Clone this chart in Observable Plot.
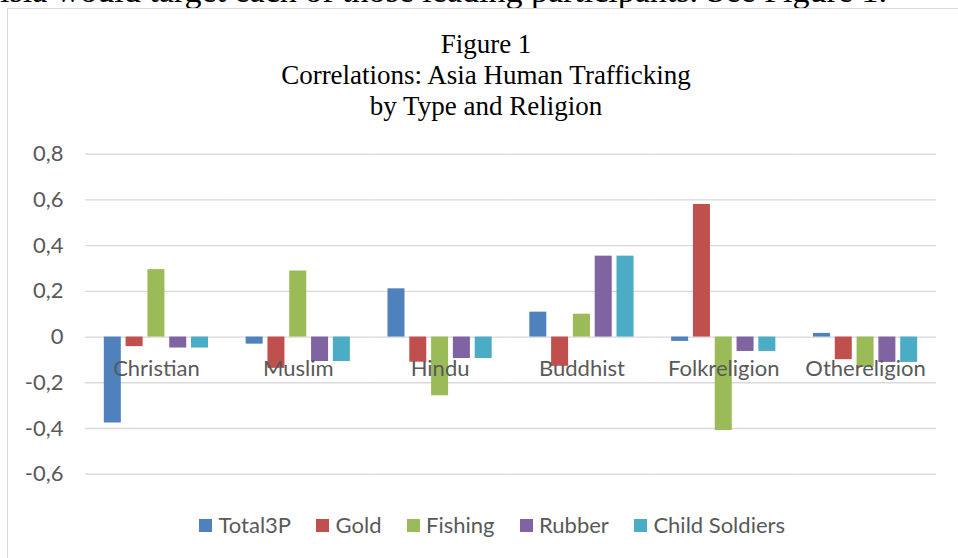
<!DOCTYPE html>
<html>
<head>
<meta charset="utf-8">
<script src="https://cdn.jsdelivr.net/npm/d3@7"></script>
<script src="https://cdn.jsdelivr.net/npm/@observablehq/plot@0.6"></script>
<style>
  html, body { margin: 0; padding: 0; background: #fff; }
  #page { position: relative; width: 958px; height: 558px; overflow: hidden; background: #fff; }
  #lead { position: absolute; left: 0; top: -26.5px; font: 34px "Liberation Serif", "Times New Roman", serif; line-height: 34px; white-space: nowrap; color: #000; }
  #box { position: absolute; left: 7px; top: 8px; width: 980px; height: 580px; border-left: 1.5px solid #d9d9d9; border-top: 1.5px solid #d9d9d9; background: #fff; }
  #title { position: absolute; left: 0; top: 28.5px; width: 972px; text-align: center; font: 27px "Liberation Serif", "Times New Roman", serif; line-height: 31px; color: #000; }
  #chart { position: absolute; left: 0; top: 130px; }
  #legend { position: absolute; left: 199px; top: 514px; display: flex; align-items: center; gap: 25px; font: 22px Lato, sans-serif; line-height: 22px; color: #595959; white-space: nowrap; }
  #legend .item { display: flex; align-items: center; gap: 6.5px; }
  #legend .sw { width: 13px; height: 13px; display: inline-block; }
</style>
</head>
<body>
<div id="page">
  <div id="lead">isia would target each of those leading participants. See Figure 1.</div>
  <div id="box"></div>
  <div id="title">Figure 1<br>Correlations: Asia Human Trafficking<br>by Type and Religion</div>
  <div id="chart"></div>
  <div id="legend"></div>
</div>
<script>
// Religion groups along the horizontal axis
const religions = ["Christian", "Muslim", "Hindu", "Buddhist", "Folkreligion", "Othereligion"];

// Trafficking types (one bar per type in every group)
const series = ["Total3P", "Gold", "Fishing", "Rubber", "Child Soldiers"];
const colors = ["#4F81BD", "#C0504D", "#9BBB59", "#8064A2", "#4BACC6"];

// Correlation values, ordered like `religions`
const total3P       = [-0.376, -0.031,  0.211,  0.109, -0.019,  0.016];
const gold          = [-0.042, -0.137, -0.110, -0.128,  0.580, -0.099];
const fishing       = [ 0.295,  0.289, -0.257,  0.100, -0.409, -0.133];
const rubber        = [-0.048, -0.107, -0.094,  0.354, -0.063, -0.111];
const childSoldiers = [-0.048, -0.107, -0.094,  0.354, -0.063, -0.111];

// Value axis ticks
const yTicks = [-0.6, -0.4, -0.2, 0, 0.2, 0.4, 0.6, 0.8];

const valuesBySeries = [total3P, gold, fishing, rubber, childSoldiers];
const rows = [];
religions.forEach((religion, i) => {
  series.forEach((s, j) => {
    rows.push({religion, series: s, value: valuesBySeries[j][i]});
  });
});

const commaFormat = d => d === 0 ? "0" : d.toFixed(1).replace(".", ",");

const chart = Plot.plot({
  width: 958,
  height: 380,
  marginTop: 23.7,
  marginBottom: 36.3,
  marginLeft: 85,
  marginRight: 22,
  style: {
    background: "transparent",
    overflow: "visible",
    fontFamily: "Lato, sans-serif",
    fontSize: "22px",
    color: "#595959"
  },
  fx: {domain: religions, padding: 0, round: false, axis: null},
  x: {domain: series, paddingInner: 0.22, paddingOuter: 0.8625, round: false, axis: null},
  y: {
    domain: [-0.6, 0.8],
    ticks: yTicks,
    tickFormat: commaFormat,
    tickSize: 0,
    tickPadding: 22,
    label: null
  },
  color: {domain: series, range: colors},
  marks: [
    Plot.ruleY(yTicks, {stroke: "#d9d9d9", strokeWidth: 1.3}),
    Plot.barY(rows, {fx: "religion", x: "series", y: "value", fill: "series"}),
    Plot.text(religions, {
      fx: d => d,
      text: d => d,
      y: () => 0,
      dy: 32,
      fill: "#595959",
      fontSize: 22
    })
  ]
});
document.getElementById("chart").appendChild(chart);

// Legend row under the chart
const legend = d3.select("#legend");
series.forEach((s, j) => {
  const item = legend.append("div").attr("class", "item");
  item.append("span").attr("class", "sw").style("background", colors[j]);
  item.append("span").text(s);
});
</script>
</body>
</html>
